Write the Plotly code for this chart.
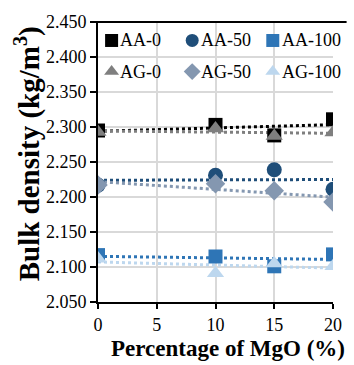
import numpy as np
import plotly.graph_objects as go

# MgO content (%) of each mix
mgo = [0, 10, 15, 20]

# Bulk density (kg/m3) per series
aa_0 = [2.295, 2.303, 2.288, 2.311]
aa_50 = [2.217, 2.231, 2.239, 2.211]
aa_100 = [2.117, 2.115, 2.101, 2.118]
ag_0 = [2.293, 2.298, 2.287, 2.292]
ag_50 = [2.217, 2.219, 2.209, 2.193]
ag_100 = [2.112, 2.091, 2.105, 2.101]

y_ticks = [2.05, 2.10, 2.15, 2.20, 2.25, 2.30, 2.35, 2.40, 2.45]
x_ticks = [0, 5, 10, 15, 20]

series = [
    ("AA-0", aa_0, "square", "#000000", 14),
    ("AA-50", aa_50, "circle", "#1f4e79", 15),
    ("AA-100", aa_100, "square", "#2e75b6", 14),
    ("AG-0", ag_0, "triangle-up", "#7f7f7f", 15),
    ("AG-50", ag_50, "diamond", "#8497b0", 15),
    ("AG-100", ag_100, "triangle-up", "#bdd7ee", 15),
]

FONT = "Liberation Serif, Times New Roman, serif"

# Plot frame in pixels (figure is 354 x 365)
L, R, T, B = 98, 340, 14, 302

fig = go.Figure()

# Linear trend lines (dotted), drawn beneath the markers
x_fit = np.array([0, 20])
for name, vals, sym, col, sz in series:
    k, b = np.polyfit(mgo, vals, 1)
    fig.add_trace(go.Scatter(
        x=x_fit, y=k * x_fit + b, mode="lines",
        line=dict(color=col, width=3, dash="dot"),
        showlegend=False, hoverinfo="skip",
    ))

for name, vals, sym, col, sz in series:
    fig.add_trace(go.Scatter(
        x=mgo, y=vals, mode="markers", name=name,
        marker=dict(symbol=sym, color=col, size=sz, line=dict(width=0)),
        showlegend=False,
    ))

# Legend: 3 columns x 2 rows, keys on a pixel-scaled overlay axis
key_cols = [112, 195, 278]
key_rows = [33, 65]
for i, (name, vals, sym, col, sz) in enumerate(series):
    kx = key_cols[i % 3]
    ky = key_rows[i // 3]
    fig.add_trace(go.Scatter(
        x=[kx], y=[ky], mode="markers", xaxis="x2", yaxis="y2",
        marker=dict(symbol=sym, color=col, size=13, line=dict(width=0)),
        showlegend=False, hoverinfo="skip", cliponaxis=False,
    ))
    fig.add_annotation(
        x=kx + 7, y=ky, xref="x2", yref="y2", text=name, showarrow=False,
        xanchor="left", yanchor="middle",
        font=dict(size=18, family=FONT, color="#000000"),
    )

# Axis titles
fig.add_annotation(
    x=(232 - L) / (R - L), y=(B - 350) / (B - T), xref="paper", yref="paper",
    text="<b>Percentage of MgO (%)</b>", showarrow=False,
    xanchor="center", yanchor="middle",
    font=dict(size=23, family=FONT, color="#000000"),
)
fig.add_annotation(
    x=(25 - L) / (R - L), y=(B - 150) / (B - T), xref="paper", yref="paper",
    text="<b>Bulk density (kg/m<sup>3</sup>)</b>", showarrow=False, textangle=-90,
    xanchor="center", yanchor="middle",
    font=dict(size=29, family=FONT, color="#000000"),
)

fig.update_layout(
    width=354, height=365,
    margin=dict(l=L, r=354 - R, t=T, b=365 - B),
    paper_bgcolor="white", plot_bgcolor="white",
    font=dict(family=FONT, size=18, color="#000000"),
    showlegend=False,
    xaxis=dict(
        range=[0, 20], tickvals=x_ticks, ticktext=[str(v) for v in x_ticks],
        showgrid=True, gridcolor="#d9d9d9", gridwidth=1.5,
        showline=True, linecolor="#000000", linewidth=2,
        ticks="outside", ticklen=5, tickwidth=2, tickcolor="#000000",
        zeroline=False,
    ),
    yaxis=dict(
        range=[2.05, 2.45], tickvals=y_ticks, ticktext=[f"{v:.3f}" for v in y_ticks],
        showgrid=True, gridcolor="#d9d9d9", gridwidth=1.5,
        showline=True, linecolor="#000000", linewidth=2,
        ticks="outside", ticklen=6, tickwidth=2, tickcolor="#000000",
        zeroline=False,
    ),
    xaxis2=dict(range=[L, R], overlaying="x", visible=False, fixedrange=True),
    yaxis2=dict(range=[B, T], overlaying="y", visible=False, fixedrange=True),
)

# Black border line along the top of the chart frame
fig.add_shape(type="line", xref="paper", yref="paper",
              x0=-6 / (R - L), x1=1 + 14 / (R - L), y0=1, y1=1,
              line=dict(color="#000000", width=2))

fig.write_html("out.html")
